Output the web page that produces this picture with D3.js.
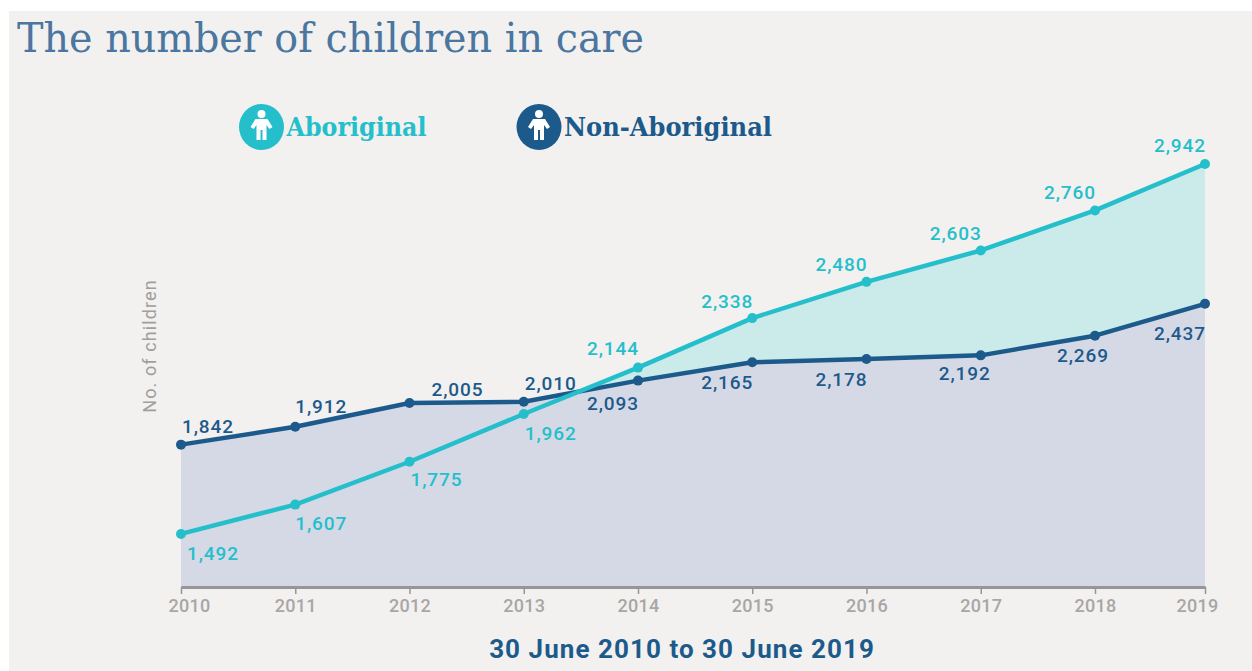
<!DOCTYPE html>
<html>
<head>
<meta charset="utf-8">
<script src="https://cdn.jsdelivr.net/npm/d3@7/dist/d3.min.js"></script>
<style>
    html, body { margin: 0; padding: 0; background: #fff; overflow: hidden; }
</style>
</head>
<body>
<div id="chart-container"></div>
<script>
const years = [2010, 2011, 2012, 2013, 2014, 2015, 2016, 2017, 2018, 2019];
const aboriginal = [1492, 1607, 1775, 1962, 2144, 2338, 2480, 2603, 2760, 2942];
// The last dark point sits lower in the picture than its printed 2,437
const nonAboriginal = [1842, 1912, 2005, 2010, 2093, 2165, 2178, 2192, 2269, 2394];
const aboriginalLabels = ["1,492", "1,607", "1,775", "1,962", "2,144", "2,338", "2,480", "2,603", "2,760", "2,942"];
const nonAboriginalLabels = ["1,842", "1,912", "2,005", "2,010", "2,093", "2,165", "2,178", "2,192", "2,269", "2,437"];
// Label offsets from the point, one pair per year
const aboriginalOffsets = [[32, 19], [26, 19], [27, 18], [27, 19], [-25, -19], [-25, -17], [-25, -18], [-25, -17], [-25, -18], [-25, -19]];
const nonAboriginalOffsets = [[27, -18], [26, -20], [48, -14], [27, -18], [-25, 23], [-25, 20], [-25, 20], [-16, 18], [-12, 20], [-25, 30]];

const teal = "#25bfcc";
const navy = "#1d5a8c";

const width = 1252, height = 671;

const svg = d3.select("#chart-container")
    .append("svg")
    .attr("width", width)
    .attr("height", height)
    .attr("font-family", "Roboto, sans-serif");

// Panel behind the chart
svg.append("rect")
    .attr("x", 9).attr("y", 11)
    .attr("width", 1243).attr("height", 660)
    .attr("fill", "#f2f1ef");

// The last year is drawn a little closer than the others
const x = d3.scaleLinear().domain([2010, 2018, 2019]).range([181, 1095, 1205]);
const y = d3.scaleLinear().domain([1284, 2942]).range([587, 164]);

const areaOf = values => d3.area()
    .x((d, i) => x(years[i]))
    .y0(y.range()[0])
    .y1(d => y(d))(values);

const lineOf = values => d3.line()
    .x((d, i) => x(years[i]))
    .y(d => y(d))(values);

svg.append("path").attr("d", areaOf(aboriginal)).attr("fill", "#cbeaea");
svg.append("path").attr("d", areaOf(nonAboriginal)).attr("fill", "#d5d9e6");

// Axis
const xAxis = d3.axisBottom(x)
    .tickValues(years)
    .tickFormat(d3.format("d"))
    .tickSize(7)
    .tickSizeOuter(0);

const axisG = svg.append("g")
    .attr("transform", `translate(0, ${y.range()[0]})`)
    .call(xAxis);
axisG.select(".domain").attr("stroke", "#979599").attr("stroke-width", 3);
axisG.selectAll(".tick line").attr("stroke", "#979599").attr("stroke-width", 1.5);
axisG.selectAll(".tick text")
    .attr("y", 12)
    .attr("fill", "#a8a6a6")
    .attr("font-family", "Roboto")
    .attr("font-size", 18)
    .attr("font-weight", 500)
    .attr("letter-spacing", 0.3);
// End labels are pulled in from their ticks
axisG.selectAll(".tick text")
    .filter(d => d === 2010).attr("x", 8);
axisG.selectAll(".tick text")
    .filter(d => d === 2019).attr("x", -8);

// One line, its dots and its labels
function drawSeries(values, labels, offsets, color) {
    svg.append("path")
        .attr("d", lineOf(values))
        .attr("fill", "none")
        .attr("stroke", color)
        .attr("stroke-width", 4.5)
        .attr("stroke-linejoin", "round");

    svg.selectAll(null)
        .data(values)
        .enter()
        .append("circle")
        .attr("cx", (d, i) => x(years[i]))
        .attr("cy", d => y(d))
        .attr("r", 5)
        .attr("fill", color);

    svg.selectAll(null)
        .data(values)
        .enter()
        .append("text")
        .attr("x", (d, i) => x(years[i]) + offsets[i][0])
        .attr("y", (d, i) => y(d) + offsets[i][1])
        .attr("dy", "0.35em")
        .attr("text-anchor", "middle")
        .attr("font-size", 19)
        .attr("font-weight", 500)
        .attr("letter-spacing", 0.9)
        .attr("fill", color)
        .text((d, i) => labels[i]);
}

drawSeries(nonAboriginal, nonAboriginalLabels, nonAboriginalOffsets, navy);
drawSeries(aboriginal, aboriginalLabels, aboriginalOffsets, teal);

// Title
svg.append("text")
    .attr("x", 17).attr("y", 52)
    .attr("font-family", "'DejaVu Serif', serif")
    .attr("font-size", 41)
    .attr("textLength", 627)
    .attr("lengthAdjust", "spacingAndGlyphs")
    .attr("fill", "#4a76a0")
    .text("The number of children in care");

// Legend
function legendItem(cx, label, color, textLength) {
    const g = svg.append("g").attr("transform", `translate(${cx}, 127)`);
    g.append("ellipse").attr("rx", 22.5).attr("ry", 23).attr("fill", color);
    g.append("circle").attr("cy", -13).attr("r", 4).attr("fill", "#fff");
    g.append("path")
        .attr("d", "M-11,0 L-6,-8 L6,-8 L11,0 L8,2 L5,-2 L5,13 L1,13 L1,3 L-1,3 L-1,13 L-5,13 L-5,-2 L-8,2 Z")
        .attr("fill", "#fff");
    g.append("text")
        .attr("x", 25).attr("y", 9)
        .attr("font-family", "'DejaVu Serif', serif")
        .attr("font-weight", 700)
        .attr("font-size", 26)
        .attr("textLength", textLength)
        .attr("lengthAdjust", "spacingAndGlyphs")
        .attr("fill", color)
        .text(label);
}
legendItem(261.5, "Aboriginal", teal, 140);
legendItem(539, "Non-Aboriginal", navy, 208);

// Axis captions
svg.append("text")
    .attr("transform", "translate(156, 346) rotate(-90)")
    .attr("text-anchor", "middle")
    .attr("font-size", 18)
    .attr("letter-spacing", 1.1)
    .attr("fill", "#a09e9e")
    .text("No. of children");

svg.append("text")
    .attr("x", 682).attr("y", 658)
    .attr("text-anchor", "middle")
    .attr("font-size", 26)
    .attr("font-weight", 700)
    .attr("letter-spacing", 1.05)
    .attr("fill", navy)
    .text("30 June 2010 to 30 June 2019");
</script>
</body>
</html>
